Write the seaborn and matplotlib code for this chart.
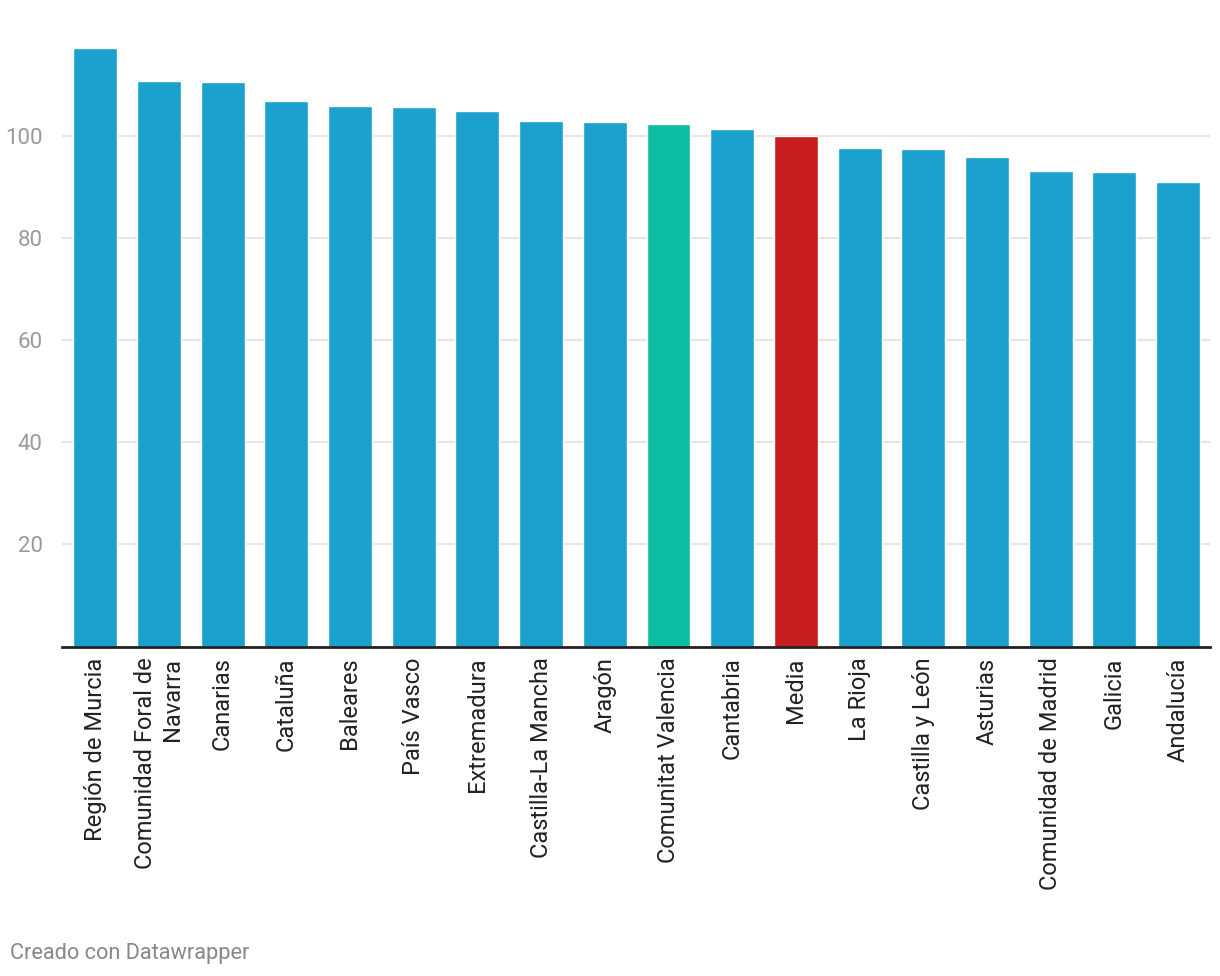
import matplotlib
matplotlib.use("Agg")
import matplotlib.pyplot as plt
import seaborn as sns
import pandas as pd

regions = ["Región de Murcia", "Comunidad Foral de\nNavarra", "Canarias", "Cataluña",
           "Baleares", "País Vasco", "Extremadura", "Castilla-La Mancha", "Aragón",
           "Comunitat Valencia", "Cantabria", "Media", "La Rioja", "Castilla y León",
           "Asturias", "Comunidad de Madrid", "Galicia", "Andalucía"]
values = [117.3, 110.8, 110.6, 106.9, 105.9, 105.7, 104.9, 103.1, 102.9,
          102.5, 101.4, 100.0, 97.8, 97.5, 95.9, 93.3, 93.1, 91.0]
y_ticks = [20, 40, 60, 80, 100]

BLUE = "#1aa1cd"
GREEN = "#0bbda1"
RED = "#c91e1f"
colors = [GREEN if r == "Comunitat Valencia" else RED if r == "Media" else BLUE for r in regions]

df = pd.DataFrame({"region": regions, "value": values})

sns.set_theme(style="white")
plt.rcParams["font.family"] = ["Roboto", "DejaVu Sans"]

fig = plt.figure(figsize=(12.2, 9.76), dpi=100)
ax = fig.add_axes([62/1220, 1 - 646.5/976, (1210 - 62)/1220, (646.5 - 40)/976])

sns.barplot(data=df, x="region", y="value", hue="region", palette=colors,
            legend=False, width=0.69, saturation=1, ax=ax, zorder=3)

ax.set_xlim(-0.52, len(regions) - 0.5)
ax.set_ylim(0, 118.9)
ax.set_yticks(y_ticks)
ax.yaxis.grid(True, color="#e5e5e5", linewidth=1.5, zorder=0)
ax.set_axisbelow(True)
ax.set_xlabel("")
ax.set_ylabel("")
for s in ["top", "right", "left"]:
    ax.spines[s].set_visible(False)
ax.spines["bottom"].set_color("#222222")
ax.spines["bottom"].set_linewidth(2)
ax.spines["bottom"].set_zorder(5)

ax.tick_params(axis="y", length=0, labelsize=16, labelcolor="#9a9a9a", pad=14)
ax.tick_params(axis="x", length=0, labelsize=17, labelcolor="#222222", pad=8)
for lbl in ax.get_yticklabels():
    lbl.set_horizontalalignment("right")
for lbl in ax.get_xticklabels():
    lbl.set_rotation(90)
    lbl.set_ha("center")
    lbl.set_va("top")
    lbl.set_multialignment("right")

fig.text(10/1220, 1 - 953/976, "Creado con Datawrapper", fontsize=15.7, color="#888888",
         ha="left", va="center")

fig.savefig("out.png", dpi=100)
